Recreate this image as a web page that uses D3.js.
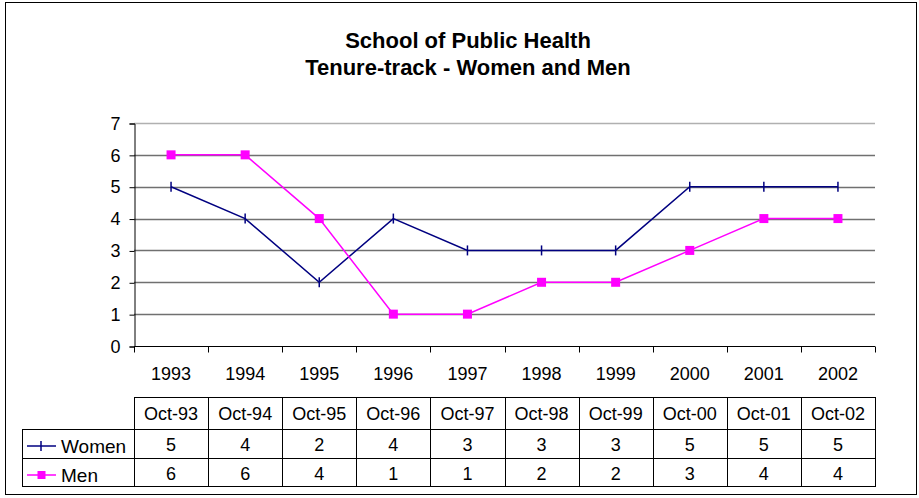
<!DOCTYPE html>
<html>
<head>
<meta charset="utf-8">
<script src="https://cdn.jsdelivr.net/npm/d3@7"></script>
<style>
  body { margin: 0; background: #fff; }
  text { font-family: Arial, "Liberation Sans", sans-serif; }
</style>
</head>
<body>
<div id="chart"></div>
<script>
var years = ["1993", "1994", "1995", "1996", "1997", "1998", "1999", "2000", "2001", "2002"];
var dates = ["Oct-93", "Oct-94", "Oct-95", "Oct-96", "Oct-97", "Oct-98", "Oct-99", "Oct-00", "Oct-01", "Oct-02"];
var women = [5, 4, 2, 4, 3, 3, 3, 5, 5, 5];
var men = [6, 6, 4, 1, 1, 2, 2, 3, 4, 4];
var yTicks = [0, 1, 2, 3, 4, 5, 6, 7];

var width = 919,
    height = 498;

var plotLeft = 134, plotRight = 875, plotTop = 123, plotBottom = 346;

var svg = d3.select("#chart")
    .append("svg")
    .attr("width", width)
    .attr("height", height)

// outer frame
svg.append("rect")
    .attr("x", 5.5).attr("y", 2.5)
    .attr("width", 911).attr("height", 492)
    .attr("fill", "none")
    .attr("stroke", "#000")
    .attr("stroke-width", 1)

svg.append("text")
    .attr("x", 468).attr("y", 48)
    .attr("text-anchor", "middle")
    .attr("font-size", 22).attr("font-weight", "bold")
    .text("School of Public Health")
svg.append("text")
    .attr("x", 468).attr("y", 75)
    .attr("text-anchor", "middle")
    .attr("font-size", 22).attr("font-weight", "bold")
    .text("Tenure-track - Women and Men")

var x = d3.scaleBand().domain(years).range([plotLeft, plotRight])
var y = d3.scaleLinear().domain([0, 7]).range([plotBottom, plotTop])

// gridlines
svg.selectAll(".grid")
    .data(yTicks.filter(d => d > 0))
    .enter().append("line")
    .attr("class", "grid")
    .attr("x1", plotLeft).attr("x2", plotRight)
    .attr("y1", d => Math.round(y(d)) + 0.5)
    .attr("y2", d => Math.round(y(d)) + 0.5)
    .attr("stroke", d => d == 7 ? "#b0b0b0" : "#707070")
    .attr("stroke-width", 1.5)

// y axis
var yAxis = d3.axisLeft(y).tickValues(yTicks).tickFormat(d3.format("d")).tickSize(5).tickPadding(9)
var gy = svg.append("g")
    .attr("transform", "translate(" + (plotLeft + 0.5) + ",0.5)")
    .call(yAxis)
gy.select(".domain").attr("stroke", "#000")
gy.selectAll("text").attr("font-size", 18).attr("fill", "#000").attr("font-family", "Arial, 'Liberation Sans', sans-serif")

// x axis with ticks at category boundaries
var gx = svg.append("g")
    .attr("transform", "translate(0," + (plotBottom + 0.5) + ")")
gx.append("line")
    .attr("x1", plotLeft).attr("x2", plotRight)
    .attr("stroke", "#000")
gx.selectAll(".xt")
    .data(years.concat(["end"]))
    .enter().append("line")
    .attr("class", "xt")
    .attr("x1", (d, i) => Math.round(plotLeft + i * x.step()) + 0.5)
    .attr("x2", (d, i) => Math.round(plotLeft + i * x.step()) + 0.5)
    .attr("y1", 0).attr("y2", 6)
    .attr("stroke", "#000")
gx.selectAll(".xl")
    .data(years)
    .enter().append("text")
    .attr("class", "xl")
    .attr("x", d => x(d) + x.bandwidth() / 2)
    .attr("y", 33)
    .attr("text-anchor", "middle")
    .attr("font-size", 18)
    .text(d => d)

var line = d3.line()
    .x((d, i) => x(years[i]) + x.bandwidth() / 2)
    .y(d => y(d))

svg.append("path")
    .datum(women)
    .attr("d", line)
    .attr("fill", "none")
    .attr("stroke", "#000080")
    .attr("stroke-width", 1.5)

svg.append("path")
    .datum(men)
    .attr("d", line)
    .attr("fill", "none")
    .attr("stroke", "#ff00ff")
    .attr("stroke-width", 1.5)

svg.selectAll(".wm")
    .data(women)
    .enter().append("line")
    .attr("class", "wm")
    .attr("x1", (d, i) => x(years[i]) + x.bandwidth() / 2)
    .attr("x2", (d, i) => x(years[i]) + x.bandwidth() / 2)
    .attr("y1", d => y(d) - 5)
    .attr("y2", d => y(d) + 5)
    .attr("stroke", "#000080")
    .attr("stroke-width", 1.5)

svg.selectAll(".mm")
    .data(men)
    .enter().append("rect")
    .attr("class", "mm")
    .attr("x", (d, i) => x(years[i]) + x.bandwidth() / 2 - 4.5)
    .attr("y", d => y(d) - 4.5)
    .attr("width", 9).attr("height", 9)
    .attr("fill", "#ff00ff")

// data table
var tTop = 397, tHead = 429, tRow1 = 458, tRow2 = 486, tLeft = 22;
var tbl = svg.append("g").attr("fill", "none").attr("stroke", "#000").attr("stroke-width", 1)

tbl.append("line").attr("x1", plotLeft).attr("x2", plotRight).attr("y1", tTop + 0.5).attr("y2", tTop + 0.5)
tbl.selectAll(".hl")
    .data([tHead, tRow1, tRow2])
    .enter().append("line")
    .attr("x1", tLeft).attr("x2", plotRight)
    .attr("y1", d => d + 0.5).attr("y2", d => d + 0.5)
tbl.append("line").attr("x1", tLeft + 0.5).attr("x2", tLeft + 0.5).attr("y1", tHead).attr("y2", tRow2 + 1)
tbl.selectAll(".vl")
    .data(years.concat(["end"]))
    .enter().append("line")
    .attr("x1", (d, i) => Math.round(plotLeft + i * x.step()) + 0.5)
    .attr("x2", (d, i) => Math.round(plotLeft + i * x.step()) + 0.5)
    .attr("y1", tTop).attr("y2", tRow2 + 1)

svg.selectAll(".hd")
    .data(dates)
    .enter().append("text")
    .attr("x", (d, i) => x(years[i]) + x.bandwidth() / 2)
    .attr("y", 420)
    .attr("text-anchor", "middle")
    .attr("font-size", 18)
    .text(d => d)

svg.selectAll(".wv")
    .data(women)
    .enter().append("text")
    .attr("x", (d, i) => x(years[i]) + x.bandwidth() / 2)
    .attr("y", 451)
    .attr("text-anchor", "middle")
    .attr("font-size", 18)
    .text(d => d)

svg.selectAll(".mv")
    .data(men)
    .enter().append("text")
    .attr("x", (d, i) => x(years[i]) + x.bandwidth() / 2)
    .attr("y", 480)
    .attr("text-anchor", "middle")
    .attr("font-size", 18)
    .text(d => d)

// legend keys in table
var wy = 446, my = 475;
svg.append("line").attr("x1", 27).attr("x2", 56).attr("y1", wy).attr("y2", wy).attr("stroke", "#000080").attr("stroke-width", 1.5)
svg.append("line").attr("x1", 41).attr("x2", 41).attr("y1", wy - 5).attr("y2", wy + 5).attr("stroke", "#000080").attr("stroke-width", 1.5)
svg.append("line").attr("x1", 27).attr("x2", 56).attr("y1", my).attr("y2", my).attr("stroke", "#ff00ff").attr("stroke-width", 1.5)
svg.append("rect").attr("x", 37.5).attr("y", my - 4).attr("width", 8).attr("height", 8).attr("fill", "#ff00ff")
svg.append("text").attr("x", 61).attr("y", 453).attr("font-size", 19).text("Women")
svg.append("text").attr("x", 61).attr("y", 482).attr("font-size", 19).text("Men")
</script>
</body>
</html>
